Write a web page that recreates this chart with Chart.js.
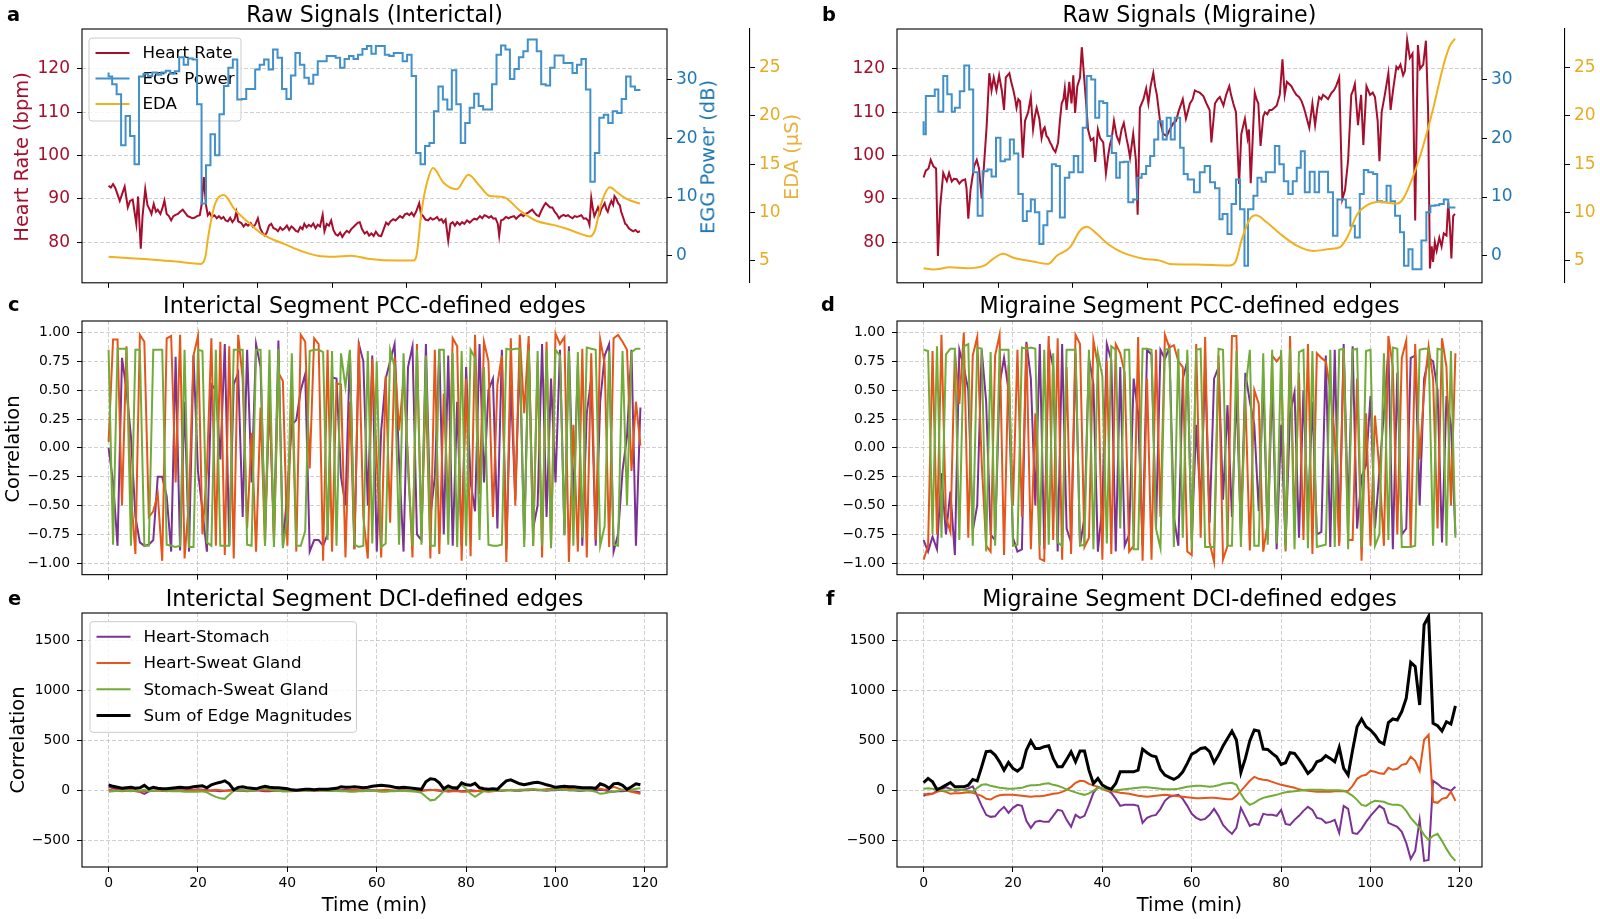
<!DOCTYPE html>
<html lang="en">
<head>
<meta charset="UTF-8">
<title>Raw signals and edges</title>
<script src="https://cdn.jsdelivr.net/npm/chart.js@4.4.0/dist/chart.umd.min.js"></script>
<style>
  body,html{margin:0;padding:0;background:#fff;}
  #fig{position:relative;width:1600px;height:919px;overflow:hidden;font-family:"DejaVu Sans",sans-serif;color:#000;}
  canvas{position:absolute;}
  .txt{position:absolute;white-space:nowrap;line-height:1;}
  .title{font-size:22.2px;transform:translateX(-50%);}
  .letter{font-size:19.4px;font-weight:bold;}
  .ylab{font-size:19.4px;transform:translate(-50%,-50%) rotate(-90deg);}
  .xlab{font-size:19.4px;transform:translateX(-50%);}
</style>
<script>
// ---- tick values ----
var rawTickSec = [0,1000,2000,3000,4000,5000,6000,7000];
var minuteTicks = [0,20,40,60,80,100,120];
var hrTicks = [80,90,100,110,120];
var eggTicks = [0,10,20,30];
var edaTicks = [5,10,15,20,25];
var pccTicks = [-1,-0.75,-0.5,-0.25,0,0.25,0.5,0.75,1];
var dciTicks = [-500,0,500,1000,1500];

// ---- raw signals, interictal: [minute, value] ----
var hrInterictal = [[0,93],[0.5,92.6],[1,93.4],[1.5,92.5],[2,91],[2.5,89.5],[3,91],[3.6,92.8],[4.3,88],[4.8,89.5],[5.4,89.8],[5.8,87],[6.2,84.2],[6.6,90.5],[7.2,78.5],[7.6,86],[8.2,92.2],[8.7,88.5],[9.2,87.5],[9.6,86.5],
 [10.1,88.8],[10.6,87],[11,87.5],[11.6,86.5],[12.1,88],[12.5,89.6],[13,86.5],[13.5,86],[14,85],[14.5,86],[15,86.3],[15.5,86.5],[16,87],[16.6,87.5],[17.1,86.8],[17.7,86],[18.2,85.8],[18.7,85.5],[19.2,85.6],[19.8,86],
 [20.4,86.2],[20.8,88.5],[21.3,95],[21.8,88.5],[22.2,86.2],[22.6,86.8],[23.1,85.8],[23.7,86.2],[24.2,85.5],[24.7,86],[25.2,85.4],[25.7,85.8],[26.2,85],[26.7,84.8],[27.2,85.6],[27.7,84.6],[28.2,85.3],[28.6,87],[29,84.8],[29.7,84.4],
 [30.2,83.6],[30.7,84.2],[31.2,83.8],[31.8,84.4],[32.3,83.5],[32.8,84],[33.4,85.5],[33.9,83.2],[34.4,82.2],[34.9,81.5],[35.4,82.2],[35.9,83.8],[36.4,84.2],[36.9,83.2],[37.4,83],[37.9,82.5],[38.4,83.4],[38.9,82.8],[39.4,83.2],[39.9,83.8],
 [40.4,82.8],[40.9,83.6],[41.4,83.2],[41.9,82.6],[42.4,82.4],[42.9,83.5],[43.4,83],[43.8,84.2],[44.3,83.4],[44.8,84],[45.3,83.6],[45.8,84.3],[46.3,83.2],[46.8,84],[47.3,83.6],[47.9,86.3],[48.3,82.5],[48.8,84.2],[49.3,83.8],[49.8,85],
 [50.3,82.8],[50.8,81.8],[51.3,81.5],[51.8,82.2],[52.3,81.2],[52.8,82],[53.3,82.6],[53.8,82.2],[54.3,83],[54.8,83.5],[55.3,84],[55.8,84.5],[56.2,84.6],[56.7,83],[57.3,82],[57.8,82.4],[58.3,81.5],[58.8,82],[59.3,81.4],[59.8,82.4],
 [60.4,81.5],[61,81.4],[61.5,82.8],[62.1,84.5],[62.6,84],[63.1,84.8],[63.7,85.3],[64.2,85],[64.7,85.5],[65.2,86],[65.8,85.6],[66.3,86.4],[66.8,86.6],[67.3,86.2],[67.8,86.8],[68.3,86],[68.8,87],[69.5,89],[69.9,86.5],[70.4,86],
 [70.9,85.2],[71.5,85],[72,85.6],[72.5,85.2],[73,85.4],[73.5,85.8],[74,85],[74.5,85.3],[74.9,84.5],[75.4,85.2],[76,80.3],[76.5,84.2],[77,84.6],[77.5,83.8],[78,84.6],[78.6,84],[79.1,84.6],[79.6,84.2],[80.2,85],[80.8,84.5],
 [81.3,85],[81.8,85.4],[82.4,85.2],[83.1,86],[83.6,85.5],[84.1,86.2],[84.6,86],[85.1,85.6],[85.6,86],[86.1,85.4],[86.6,85.5],[87.1,84.2],[87.4,81.5],[87.8,85],[88.3,85.2],[88.9,85.8],[89.5,85.5],[90.1,85.8],[90.7,86],[91.2,85.4],
 [91.8,86],[92.3,86.4],[92.8,86],[93.3,86.5],[93.9,86.8],[94.4,87.2],[94.8,87.5],[95.3,86.8],[95.8,86.2],[96.3,86],[96.9,87.4],[97.4,88.4],[97.8,89],[98.3,88.5],[98.8,88],[99.3,88],[99.8,87],[100.3,86.4],[100.8,85.5],[101.3,86],
 [101.8,86.3],[102.3,86],[102.8,86.2],[103.3,85.8],[103.8,85.5],[104.3,86],[104.8,85.8],[105.3,86],[105.8,86.2],[106.3,85.4],[106.8,85.5],[107.3,85],[107.6,84],[108,90.2],[108.4,87.5],[108.7,86],[109.1,87],[109.5,88],[109.9,86.5],[110.2,87.5],
 [110.6,88.2],[111,89],[111.4,87.5],[111.7,87],[112.1,88.5],[112.5,89.5],[112.9,88.6],[113.2,90.6],[113.6,90],[114,89],[114.4,88.5],[114.7,87],[115.2,85.5],[115.6,84.2],[115.9,84],[116.4,83.2],[116.9,82.8],[117.4,82.5],[117.9,82.8],[118.4,82.3],[118.9,82.5]];

// EGG power per minute (dB)
var eggInterictal = [
 31.2,30.5,29.2,27.5,18.8,23.8,20.4,15.6,30.5,31,
 30.6,31.2,30.8,31.2,31.5,31,31.4,33.8,32.5,33.6,
 33.4,25.8,8.9,15.4,20.7,17.1,24.1,28.9,32,33.4,
 26.6,26.7,28.4,28.4,31.7,32.5,33.4,31.7,35.1,33.7,
 28.4,26.7,30.7,34.5,32.5,30.3,29.3,30.8,33.1,33.1,
 34,34,33.7,32,33.5,34,33.5,34.2,35.2,35.7,
 34.4,35.7,35.7,34.2,34,34.5,34.5,33.1,34.2,30.6,
 17.5,15.6,18.7,19.2,24.6,28.8,26.6,24.9,31.6,25.8,
 19.2,22.6,25.2,27.6,25.5,24.9,24.9,29.2,34.2,35.8,
 35.1,30.1,31.8,33.8,34.8,36.8,36.8,34.8,29.2,29,
 32,34.1,34.1,32.8,32.8,31.1,32.5,33.5,28.3,12.6,
 17.5,23.5,24,22.6,24.6,24.3,26.7,30.5,28.8,28.2];

var edaInterictal = [[0,5.41],[5,5.25],[10,5.1],[15,4.9],[20.7,4.66],[21.7,5.5],[22.2,7.2],[23.7,10.7],[25.8,11.8],[28.2,10.3],[31.2,9],[34.2,7.8],[39.4,6.7],[43.1,6.0],[46.8,5.5],[50.6,5.4],[54.3,5.5],[58,5.2],[64.7,5.0],[68.2,5.0],
 [68.9,5.5],[70,10],[71.1,12.8],[72.6,14.6],[74.9,13.1],[77.9,12.4],[80.5,13.9],[83.1,12.7],[85.3,11.7],[88.3,11.6],[92,10.2],[95.8,9.1],[99.5,8.7],[102.5,8.3],[105.5,7.8],[107.7,7.5],[108.8,8.1],[110.3,11],[112.2,12.6],[113.7,12.1],[115.9,11.4],[118.9,10.9]];

// ---- raw signals, migraine ----
var hrMigraine = [[0,94.9],[0.5,96.5],[1.1,97],[1.6,99],[2.2,97.5],[2.8,97],[3.2,76.8],[3.7,88],[4.4,96],[4.8,95],[5.2,94.1],[5.7,96],[6.3,94],[6.8,94.6],[7.4,94.5],[8,93.5],[8.6,94.2],[9.3,94.5],[9.6,92.5],[10,85.4],
 [10.5,92],[11.3,97.5],[11.9,99],[12.4,97],[13,90],[13.6,99],[14.1,106.6],[14.7,119],[15.2,115],[15.7,118],[16.3,115],[16.9,118.5],[17.5,115],[18,110.5],[18.4,118],[19.2,119],[19.6,117],[20.1,115],[20.5,113],[20.8,111],
 [21.2,113],[21.6,112.5],[22.2,99.5],[22.7,108],[23.4,110],[24,113.5],[24.5,106],[24.9,109],[25.3,111],[25.9,108.5],[26.4,104],[26.8,106],[27.1,106.5],[27.5,104.5],[27.9,104],[28.3,103],[28.6,102.5],[29,101.5],[29.5,100.8],[30.1,103],
 [30.5,108],[30.9,112],[31.3,113],[31.6,115.5],[32,110.5],[32.6,117],[33.1,112],[33.5,118.5],[33.9,109.8],[34.4,116],[35,118],[35.4,125],[35.7,121],[36.3,113],[36.8,106],[37.4,103.5],[38,104],[38.4,98.5],[39,106],[39.5,104],
 [40.2,103],[40.8,95.9],[41.3,100],[41.7,102.5],[42.1,104],[42.6,108],[43.2,104.5],[43.8,103],[44.3,106],[44.8,107.5],[45.4,104],[45.8,102],[46.2,99.5],[46.9,105],[47.5,99],[47.9,86.3],[48.4,111],[48.8,112],[49.2,113],[49.8,115.5],
 [50.3,112],[50.8,116],[51.4,119],[51.8,116],[52.2,114],[52.9,108],[53.6,105],[54.4,104.5],[55.1,106],[55.9,107.5],[56.5,108],[57,110],[57.5,111.5],[58,113],[58.7,108.5],[59.6,112],[60.2,113],[60.7,115],[61.1,114.8],[61.8,114.5],
 [62.6,113.7],[63.3,112],[64,110.5],[64.4,103],[65.2,112],[65.8,113],[66.3,113.5],[67.1,111.5],[67.7,114],[68.4,116],[68.8,114],[69.3,112],[69.9,110],[70.6,93.4],[71.1,105],[71.9,108.5],[72.5,104],[72.8,106],[73.2,93.6],[74.1,114.5],
 [74.5,113],[74.9,112],[75.4,102.2],[76,109],[76.4,110],[76.9,109.5],[77.4,110.5],[77.9,110.5],[78.5,111],[79,111.5],[79.7,114],[80.3,122.2],[80.8,114],[81.3,117],[81.8,116.5],[82.3,116],[82.8,115],[83.4,114],[84,113.5],[84.6,112.5],
 [85.1,111],[85.5,109.5],[86.3,106.4],[87,112],[87.6,107],[88.1,111],[88.5,113.5],[89,113],[89.4,114],[90,113.5],[90.5,113],[91.3,114.5],[91.8,115],[92.3,116],[93,118],[93.7,89.9],[94.3,92],[95,99],[95.7,114],[96.1,115],
 [96.5,116.5],[97.2,107],[97.9,114],[98.4,102.4],[99.1,116],[99.5,115],[99.9,114],[100.5,114.5],[101,113.5],[101.6,108],[102,98.7],[102.5,110],[103.2,114],[104,119],[104.5,110.5],[105.1,115.5],[105.8,120.5],[106.2,120],[106.7,121],[107.3,118.5],
 [107.7,119.5],[108.2,126.7],[108.8,122.5],[109.4,123.5],[110,85],[110.6,125.5],[111.1,120],[111.8,121],[112.4,126.5],[112.9,110],[113.3,73.9],[113.7,79],[114,75.4],[114.4,80],[114.8,78],[115.4,81],[115.9,79],[116.4,82],[117,81.5],[117.4,89.2],
 [117.8,83],[118.1,76.2],[118.5,86],[118.9,86.5]];

// EGG power steps: [step start minute, dB]
var eggMigraine = [[0,22.9],[0.5,20.7],[2.5,27.2],[3.3,28.3],[4.4,24.5],[5.3,30.6],[6.3,27.5],[7,24.5],[8.1,25.2],[9.1,28],[10.2,32.4],[11.1,28.3],[12.1,14.2],[13.2,6.8],[14.3,14.4],[15.2,14.7],[16.2,13.5],[17.2,20.1],[18.2,16.1],[19.3,16.4],
 [20.2,19.8],[21.2,17.4],[22.2,10.5],[23.1,5.9],[24,7.6],[24.9,9.6],[25.9,7.4],[26.8,2],[27.7,5.2],[28.7,7.6],[29.6,15.6],[30.5,15.3],[31.6,6.5],[32.6,13.3],[33.6,14.2],[34.6,17],[35.6,14.2],[36.5,21.8],[37.5,30.6],[38.4,30],
 [39.3,23.5],[40.2,26.3],[41.1,26],[42.1,20.4],[43.1,17.5],[43.9,13.3],[44.8,15.9],[45.8,16],[46.9,9.1],[47.8,9.6],[48.8,13.3],[49.8,13.9],[50.7,15.3],[51.6,17],[52.5,19.8],[53.5,22.9],[54.4,19.8],[55.3,23.5],[56.2,19.8],[57.4,23.5],
 [58.2,18.4],[59.1,13.9],[60.5,13],[61.8,10.8],[62.9,14.2],[64.1,15.3],[65.2,12.5],[66.2,11.5],[66.9,6.2],[68,7.1],[68.9,3.7],[69.9,8.8],[70.8,13],[71.8,7.9],[72.6,-1.7],[73.8,7.9],[74.7,10.2],[75.6,13.3],[76.6,12.6],[78.6,14.2],
 [79.6,18.7],[80.6,15.6],[81.6,12.7],[82.6,10.5],[83.5,12.7],[84.4,15],[85.3,17.8],[86.4,10.8],[87.5,14.3],[88.5,10.8],[90.5,14.3],[91.6,10.8],[92.6,3.4],[94.5,9.6],[95.5,8.2],[96.5,5.1],[97.6,3.1],[98.5,10.5],[99.5,14.6],[100.6,14.2],
 [101.5,13.9],[102.6,9.3],[103.6,9.1],[104.5,11.9],[105.5,9.3],[106.6,6.8],[107.5,4],[108.5,-1.7],[109.4,1.1],[111.4,-2.3],[112.5,2.6],[113.4,7.4],[114.4,8.5],[115.4,8.6],[116.4,8.8],[117.4,9.6],[118.4,8.2],[119,8.2]];

var edaMigraine = [[0,4.2],[2.2,4.07],[5.9,4.3],[9.6,4.2],[13.7,4.5],[15.6,5.2],[17.8,5.7],[20.1,5.3],[24.5,4.9],[27.9,4.66],[29.8,5.5],[32.8,6.4],[35,8.1],[36.5,8.5],[38.7,7.8],[41.3,6.7],[44.7,5.8],[49.2,5.2],[52.9,5.0],[55.1,4.66],
 [61.1,4.6],[68.5,4.5],[69.7,4.8],[71.2,7.2],[73,9.3],[74.4,9.7],[76.7,9.0],[79.7,7.8],[83.5,6.55],[87.2,6.0],[90.9,6.2],[93.2,6.4],[95,7.6],[96.9,9.7],[99.1,10.7],[102.1,11.1],[105.8,10.9],[107.3,11.4],[109.6,13.8],[111.8,16.9],
 [114,20.7],[116.3,25.2],[117.7,27.2],[118.9,28.0]];

// ---- PCC-defined edges, one value per minute ----
var pccInterHS = [
 0.0,-0.3,-0.85,0.78,0.5,0.1,-0.6,-0.82,-0.85,-0.84,
 -0.8,-0.25,-0.25,-0.42,-0.9,0.79,-0.89,0.4,-0.9,0.8,
 -0.2,-0.55,-0.9,0.55,0.5,-0.1,0.9,-0.85,0.55,0.65,
 -0.6,0.85,-0.3,0.9,0.7,-0.7,0.42,-0.75,0.93,-0.85,
 -0.38,0.2,0.24,0.5,0.64,-0.9,-0.8,-0.8,-0.85,-0.75,
 0.61,0.6,-0.25,-0.5,0.84,-0.88,0.9,0.75,-0.5,0.8,
 -0.9,0.15,0.6,0.75,0.9,-0.12,-0.9,0.7,0.88,-0.75,
 -0.8,0.9,-0.6,-0.25,0.85,-0.75,0.8,-0.85,0.4,-0.85,
 0.7,-0.3,-0.55,0.9,-0.3,0.5,0.6,-0.7,0.85,-0.88,
 0.55,-0.45,0.8,-0.8,0.9,-0.7,-0.5,0.9,-0.6,0.6,
 -0.3,0.85,-0.75,0.88,-0.5,0.72,-0.85,0.3,0.6,-0.85,
 0.4,0.8,0.9,-0.9,-0.75,-0.2,0.1,0.85,-0.85,0.35];
var pccInterHSG = [
 0.05,0.94,0.94,-0.5,0.88,-0.4,-0.92,0.98,0.92,-0.6,
 -0.55,-0.4,-0.98,0.95,0.97,-0.3,0.98,-0.96,-0.45,0.8,
 0.97,-0.75,-0.2,0.95,-0.85,0.92,-0.93,0.88,-0.96,0.98,
 0.6,-0.7,0.13,-0.9,0.35,-0.85,0.5,-0.82,0.65,0.58,
 -0.85,0.55,-0.9,0.98,0.92,-0.18,0.95,0.9,-0.98,0.85,
 -0.9,0.56,0.55,-0.95,0.4,-0.88,0.92,-0.6,-0.96,0.77,
 -0.1,-0.95,0.62,-0.65,0.78,0.15,0.6,-0.1,-0.95,0.9,
 -0.75,0.52,-0.96,0.85,-0.92,0.47,-0.55,0.95,0.88,-0.98,
 0.6,-0.94,0.98,-0.4,0.92,0.75,-0.6,0.55,0.8,-0.99,
 0.95,-0.5,0.98,0.3,0.97,-0.85,0.75,-0.95,0.92,-0.85,
 0.99,0.9,0.96,-0.99,0.2,-0.9,0.86,-0.95,0.82,-0.8,
 0.94,0.73,-0.86,0.95,0.98,0.92,0.85,-0.2,0.4,0.02];
var pccInterSSG = [
 0.85,-0.84,0.86,0.86,0.86,-0.85,0.85,0.85,-0.85,-0.85,
 0.85,0.85,0.85,-0.84,-0.85,-0.86,-0.85,0.85,-0.86,-0.86,
 0.85,0.84,-0.82,-0.85,0.85,-0.85,-0.85,-0.85,0.85,0.85,
 0.85,-0.84,-0.85,0.85,0.85,-0.85,0.85,-0.86,0.86,-0.87,
 -0.6,0.82,-0.85,-0.85,-0.72,0.84,0.85,0.85,0.83,-0.8,
 0.84,-0.85,0.82,0.53,0.85,-0.84,-0.86,-0.85,0.84,-0.83,
 0.75,-0.86,-0.83,0.85,0.7,-0.84,0.82,-0.2,-0.85,0.85,
 -0.84,0.8,-0.85,-0.85,0.85,0.85,-0.84,0.82,-0.86,0.84,
 -0.85,0.85,0.78,-0.8,0.7,-0.84,-0.85,-0.85,-0.84,0.86,
 0.85,0.86,0.86,-0.86,0.85,-0.85,0.84,-0.85,0.85,-0.87,
 0.85,0.8,-0.76,0.84,-0.85,0.83,-0.78,0.87,0.86,0.85,
 -0.85,-0.68,0.84,-0.84,-0.85,0.84,-0.5,0.83,0.86,0.86];

var pccMigHS = [
 -0.8,-0.9,-0.77,-0.88,-0.22,-0.75,-0.38,-0.93,0.85,0.7,
 0.5,-0.72,-0.5,0.85,0.4,-0.75,-0.8,0.55,0.78,0.5,
 -0.78,-0.9,-0.88,0.92,0.6,-0.5,0.9,-0.88,0.88,0.7,
 -0.9,0.9,-0.7,-0.82,0.82,-0.85,-0.6,0.78,0.55,-0.9,
 -0.5,0.9,0.76,-0.9,0.7,-0.85,-0.75,0.6,0.3,-0.85,
 0.85,0.81,-0.7,0.85,0.77,0.87,-0.6,-0.85,0.6,0.75,
 -0.8,0.2,-0.5,0.7,-0.65,0.6,0.7,-0.45,0.37,-0.6,
 0.5,-0.75,0.65,0.4,0.2,-0.55,0.6,-0.8,0.6,-0.88,
 0.2,-0.85,0.3,0.48,-0.78,0.5,-0.6,0.4,-0.75,-0.73,
 0.8,-0.86,0.85,-0.82,0.9,-0.6,0.88,-0.7,-0.25,-0.15,
 0.45,-0.7,-0.2,0.3,0.85,-0.88,0.65,-0.75,-0.7,0.78,
 0.8,-0.5,0.6,0.78,0.75,0.5,-0.82,0.45,0.2,-0.75];
var pccMigHSG = [
 -0.97,-0.85,0.84,-0.75,0.98,-0.6,-0.73,0.84,0.38,1.0,
 -0.78,0.8,0.96,-0.13,-0.85,-0.9,0.8,0.98,-0.93,0.72,
 -0.5,0.85,-0.6,0.9,-0.88,0.3,-0.96,-0.98,0.97,-0.8,
 0.95,-0.97,0.7,-0.92,0.98,0.9,-0.86,-0.78,0.93,0.72,
 -0.97,0.75,-0.92,0.9,0.82,0.65,-0.9,-0.85,0.96,-0.98,
 0.6,-0.97,0.85,-0.6,0.98,0.87,0.89,0.75,0.7,-0.9,
 -0.93,0.9,-0.78,0.96,-0.82,-0.99,0.8,-0.97,-0.85,0.97,
 0.97,-0.7,0.45,-0.89,0.5,0.38,-0.9,-0.65,0.8,0.75,
 0.8,-0.9,0.97,-0.7,0.65,-0.8,0.9,-0.92,0.82,0.78,
 0.75,0.5,0.1,-0.85,0.85,-0.8,-0.8,0.6,-0.98,0.3,
 -0.85,0.28,-0.2,-0.85,0.97,0.7,-0.75,0.78,0.93,-0.86,
 0.9,-0.1,0.5,0.88,0.6,-0.7,0.95,0.7,-0.5,0.82];
var pccMigSSG = [
 0.85,0.84,-0.75,0.88,-0.78,0.81,0.86,0.86,-0.8,0.88,
 0.9,-0.85,0.87,0.86,-0.9,0.83,-0.85,0.85,0.85,0.85,
 -0.85,-0.84,0.87,0.86,0.87,0.86,-0.85,0.85,-0.84,0.82,
 -0.82,-0.85,0.85,0.85,0.85,-0.85,-0.84,0.85,-0.88,0.82,
 0.62,-0.83,0.88,0.85,-0.7,0.85,0.85,-0.88,-0.88,0.86,
 0.86,0.85,-0.7,-0.87,0.85,0.86,-0.86,0.86,-0.78,0.85,
 -0.88,0.85,0.86,-0.86,-0.86,-0.86,0.86,0.85,-0.85,-0.85,
 0.84,-0.86,0.5,0.85,-0.85,-0.85,0.82,-0.84,0.85,-0.83,
 0.85,-0.88,0.86,-0.88,0.83,0.85,-0.87,0.84,-0.86,-0.85,
 -0.84,0.85,-0.86,0.85,0.86,-0.88,0.85,0.86,-0.86,0.84,
 0.85,-0.85,-0.75,0.82,-0.8,0.87,0.86,-0.86,-0.86,-0.86,
 -0.85,0.85,0.86,0.86,-0.85,0.86,0.85,-0.85,0.84,-0.78];

// ---- DCI-defined edges, one value per minute ----
var dciInterHS = [
 40,25,15,10,5,5,0,-10,-30,-5,
 0,5,0,0,5,5,5,5,10,10,
 15,10,5,0,0,-5,0,5,5,0,
 0,-5,0,5,0,-5,-5,0,0,5,
 0,0,5,5,5,0,0,5,5,0,
 0,5,5,10,5,5,0,0,5,5,
 0,0,5,0,0,5,5,0,0,0,
 0,5,10,5,0,-5,0,5,0,-5,
 0,5,0,-5,0,5,5,0,0,5,
 5,0,0,5,5,10,5,5,0,5,
 5,10,10,5,5,0,0,5,5,0,
 10,5,-5,-10,-5,-5,0,-5,-10,-15];
var dciInterHSG = [
 10,5,0,-5,0,5,-5,-10,-5,0,
 0,5,0,-5,0,5,0,0,5,5,
 10,5,0,5,10,5,0,0,5,10,
 5,0,0,5,10,5,5,0,0,-5,
 -5,-5,0,0,5,5,0,0,5,5,
 5,5,0,0,5,10,5,5,0,0,
 5,5,10,5,0,0,5,0,-5,-5,
 0,5,5,10,5,0,-10,-5,-5,-10,
 -10,-5,-5,0,-5,-10,-5,0,0,5,
 5,5,10,10,15,15,10,10,15,20,
 20,15,20,20,15,15,10,15,20,25,
 20,10,20,40,25,10,0,-10,-20,-30];
var dciInterSSG = [
 -10,-5,0,5,0,-5,5,0,10,-5,
 0,5,5,0,-5,-5,-5,-10,-10,-10,
 -10,-5,-15,-40,-60,-75,-80,-40,0,5,
 5,0,0,10,20,25,15,5,0,-5,
 -5,0,5,5,0,0,5,5,0,0,
 0,0,-5,-5,-10,-10,-5,-5,0,0,
 -5,-10,-10,-5,-5,0,0,-5,-5,-10,
 -20,-60,-95,-90,-50,0,20,30,40,60,
 20,-30,-60,-30,0,5,0,0,5,5,
 10,5,5,10,10,15,10,5,5,10,
 10,15,10,5,5,10,5,5,0,-10,
 -30,-25,-15,-10,0,10,5,10,20,25];
var dciInterSum = [
 60,45,35,25,30,35,25,30,55,20,
 35,25,20,20,25,30,35,30,30,40,
 45,50,30,60,75,85,100,70,10,35,
 40,30,25,20,35,45,35,30,30,25,
 20,10,5,10,15,15,10,15,15,15,
 20,25,40,35,35,40,35,30,35,45,
 50,55,50,45,35,30,35,30,25,20,
 15,90,120,115,80,20,50,30,25,80,
 60,55,75,30,20,15,20,15,60,100,
 110,90,70,60,70,80,85,75,60,50,
 35,40,45,40,40,35,30,30,30,25,
 70,55,25,70,75,55,15,40,70,60];

var dciMigHS = [
 -50,-30,-30,0,20,35,20,0,5,10,
 25,45,-50,-150,-240,-260,-255,-200,-160,-220,
 -170,-140,-150,-300,-370,-310,-300,-310,-310,-250,
 -190,-200,-290,-360,-240,-270,-250,-140,-20,40,
 20,10,-20,-80,-150,-140,-140,-140,-150,-320,
 -270,-250,-240,-180,-100,-60,-50,-40,-80,-150,
 -230,-270,-290,-280,-240,-180,-250,-340,-390,-430,
 -370,-170,-260,-350,-330,-340,-230,-240,-240,-250,
 -190,-330,-340,-290,-250,-200,-160,-190,-270,-280,
 -320,-310,-290,-420,-150,-180,-420,-430,-380,-310,
 -250,-200,-150,-180,-320,-340,-360,-410,-520,-680,
 -600,-290,-700,-690,100,70,30,20,0,40];
var dciMigHSG = [
 -30,-40,-30,-10,0,-10,-30,-25,-25,-20,
 -15,-20,-35,-50,-80,-87,-60,-45,-40,-40,
 -40,-45,-50,-55,-60,-55,-55,-50,-40,-30,
 -25,-10,10,40,80,100,95,70,55,40,
 20,0,-5,-10,-20,-25,-30,-40,-50,-55,
 -60,-55,-50,-45,-40,-45,-50,-55,-60,-65,
 -70,-75,-75,-72,-70,-70,-75,-80,-85,-85,
 -50,0,50,100,140,120,110,105,90,75,
 60,50,40,30,15,5,0,-5,-10,-10,
 -10,-10,-5,-5,-5,0,50,120,150,160,
 200,190,175,170,230,210,220,260,270,340,
 300,200,510,560,-110,-120,-80,-70,-10,-100];
var dciMigSSG = [
 20,25,20,10,5,0,5,10,10,5,
 0,-10,30,60,65,50,40,30,25,20,
 20,25,30,45,55,55,60,70,75,60,
 50,35,15,0,-15,-30,-40,-25,0,30,
 20,10,5,5,10,15,20,25,30,35,
 35,30,25,20,15,15,15,20,30,40,
 45,50,50,45,40,45,55,70,75,80,
 60,-30,-100,-140,-120,-90,-70,-60,-50,-40,
 -25,-15,-10,-5,0,5,10,10,10,10,
 5,5,5,5,0,-20,-50,-90,-140,-150,
 -120,-100,-105,-110,-130,-140,-140,-150,-200,-270,
 -320,-370,-440,-490,-450,-430,-500,-580,-650,-700];
var dciMigSum = [
 83,124,90,13,33,57,83,40,40,40,
 57,114,100,240,391,397,357,290,207,284,
 224,197,234,407,498,424,424,441,451,324,
 240,240,314,391,290,397,397,207,73,124,
 57,33,17,73,190,190,190,190,207,417,
 381,351,341,214,157,134,114,140,190,274,
 367,391,424,431,391,281,357,448,524,598,
 508,184,324,501,608,598,417,414,374,341,
 264,281,381,374,314,247,174,214,290,307,
 351,324,290,434,224,157,407,641,718,641,
 608,558,491,468,681,718,708,792,925,1283,
 1242,858,1660,1743,675,651,598,691,668,848];
</script>
</head>
<body>
<div id="fig">
  <canvas id="cA" width="820" height="300" style="left:0;top:0"></canvas>
  <canvas id="cB" width="785" height="300" style="left:815px;top:0"></canvas>
  <canvas id="cC" width="680" height="290" style="left:0;top:300px"></canvas>
  <canvas id="cD" width="680" height="290" style="left:815px;top:300px"></canvas>
  <canvas id="cE" width="680" height="329" style="left:0;top:590px"></canvas>
  <canvas id="cF" width="680" height="329" style="left:815px;top:590px"></canvas>

  <div class="txt letter" style="left:7px;top:4.6px">a</div>
  <div class="txt letter" style="left:822px;top:4.6px">b</div>
  <div class="txt letter" style="left:8px;top:295.3px">c</div>
  <div class="txt letter" style="left:821px;top:295.3px">d</div>
  <div class="txt letter" style="left:8px;top:588.6px">e</div>
  <div class="txt letter" style="left:826px;top:588.6px">f</div>

  <div class="txt title" style="left:374.5px;top:2.9px">Raw Signals (Interictal)</div>
  <div class="txt title" style="left:1189.5px;top:2.9px">Raw Signals (Migraine)</div>
  <div class="txt title" style="left:374.5px;top:294.2px">Interictal Segment PCC-defined edges</div>
  <div class="txt title" style="left:1189.5px;top:294.2px">Migraine Segment PCC-defined edges</div>
  <div class="txt title" style="left:374.5px;top:587.2px">Interictal Segment DCI-defined edges</div>
  <div class="txt title" style="left:1189.5px;top:587.2px">Migraine Segment DCI-defined edges</div>

  <div class="txt ylab" style="left:21.6px;top:156.5px;color:#a50f2d">Heart Rate (bpm)</div>
  <div class="txt ylab" style="left:708.3px;top:156.5px;color:#1f77b4">EGG Power (dB)</div>
  <div class="txt ylab" style="left:792px;top:156.5px;color:#e8b13a">EDA (μS)</div>
  <div class="txt ylab" style="left:12.5px;top:448.5px">Correlation</div>
  <div class="txt ylab" style="left:18px;top:740px">Correlation</div>
  <div class="txt xlab" style="left:374.5px;top:894.6px">Time (min)</div>
  <div class="txt xlab" style="left:1189.5px;top:894.6px">Time (min)</div>
</div>

<script>
var FONT = '"DejaVu Sans", sans-serif';
Chart.defaults.font.family = FONT;
Chart.defaults.color = '#000';

var HR_C = '#a50f2d', EGG_LINE = '#4190c9', EGG_TXT = '#1f77b4', EDA_LINE = '#f0b020', EDA_TXT = '#e6ac22';
var PURPLE = '#7b3294', ORANGE = '#e4561a', GREEN = '#71ac38';
var GRID = 'rgba(176,176,176,0.75)';

function pairs(arr) { return arr.map(function (p) { return {x: p[0], y: p[1]}; }); }
function perMinute(arr) { return arr.map(function (v, i) { return {x: i, y: v}; }); }
function setTicks(list) { return function (s) { s.ticks = list.map(function (v) { return {value: v}; }); }; }
function minus(v) { return (v < 0 ? '\u2212' : '') + Math.abs(v); }

var framePlugin = {
  id: 'frame',
  afterDatasetsDraw: function (chart) {
    var a = chart.chartArea, c = chart.ctx;
    c.save();
    c.strokeStyle = '#000';
    c.lineWidth = 1.1;
    c.strokeRect(a.left, a.top, a.right - a.left, a.bottom - a.top);
    c.restore();
  }
};

function legendPlugin(box, rows, beforeIndex) {
  function draw(ctx) {
    ctx.save();
    ctx.beginPath();
    if (ctx.roundRect) ctx.roundRect(box.x, box.y, box.w, box.h, 3); else ctx.rect(box.x, box.y, box.w, box.h);
    ctx.fillStyle = 'rgba(255,255,255,0.8)';
    ctx.fill();
    ctx.lineWidth = 1;
    ctx.strokeStyle = '#cccccc';
    ctx.stroke();
    ctx.font = '16.7px ' + FONT;
    ctx.textBaseline = 'middle';
    rows.forEach(function (r, i) {
      var y = box.y + box.first + i * box.gap;
      ctx.beginPath();
      ctx.moveTo(box.x + 6.5, y);
      ctx.lineTo(box.x + 40.5, y);
      ctx.strokeStyle = r.color;
      ctx.lineWidth = r.width;
      ctx.stroke();
      ctx.fillStyle = '#000';
      ctx.fillText(r.label, box.x + 53.5, y + 1);
    });
    ctx.restore();
  }
  return {
    id: 'boxLegend',
    beforeDatasetDraw: function (chart, args) { if (beforeIndex !== null && args.index === beforeIndex) draw(chart.ctx); },
    afterDatasetsDraw: function (chart) { if (beforeIndex === null) draw(chart.ctx); }
  };
}

function xAxis(tickList, height, showLabels, grid) {
  return {
    type: 'linear', min: -5.95, max: 124.95,
    afterBuildTicks: setTicks(tickList),
    afterFit: function (s) { s.height = height; },
    ticks: {display: showLabels, autoSkip: false, maxRotation: 0, padding: 3, font: {size: 13.9}, color: '#000'},
    grid: {display: true, drawOnChartArea: grid, color: GRID, lineWidth: 0.8, drawTicks: true, tickLength: 5, tickColor: '#000', tickWidth: 1},
    border: {display: false, dash: [4, 2]}
  };
}

function rawChart(id, hr, egg, eda, rightWidth, withLegend) {
  var plugins = [framePlugin];
  if (withLegend) {
    plugins.push(legendPlugin({x: 89, y: 38, w: 152, h: 83, first: 15, gap: 25.5}, [
      {label: 'Heart Rate', color: HR_C, width: 2},
      {label: 'EGG Power', color: EGG_LINE, width: 2},
      {label: 'EDA', color: EDA_LINE, width: 2}
    ], 1));
  }
  return new Chart(document.getElementById(id), {
    type: 'line',
    data: {datasets: [
      {data: hr, borderColor: HR_C, borderWidth: 2, yAxisID: 'yHR', order: 2},
      {data: egg, borderColor: EGG_LINE, borderWidth: 2, stepped: 'after', yAxisID: 'yEGG', order: 1},
      {data: eda, borderColor: EDA_LINE, borderWidth: 2, cubicInterpolationMode: 'monotone', yAxisID: 'yEDA', order: 0}
    ]},
    options: {
      responsive: false, animation: false, events: [],
      layout: {autoPadding: false, padding: {top: 29, left: 0, right: 0, bottom: 0}},
      elements: {point: {radius: 0}, line: {tension: 0}},
      plugins: {legend: {display: false}, tooltip: {enabled: false}},
      scales: {
        x: xAxis(rawTickSec.map(function (s) { return s / 60; }), 16, false, false),
        yHR: {
          position: 'left', min: 70.6, max: 129.2,
          afterBuildTicks: setTicks(hrTicks),
          afterFit: function (s) { s.width = 82; },
          ticks: {color: HR_C, font: {size: 17}, padding: 7},
          grid: {color: GRID, lineWidth: 0.8, tickLength: 5, tickColor: '#000', tickWidth: 1},
          border: {display: false, dash: [4, 2]}
        },
        yEGG: {
          position: 'right', weight: 0, min: -4.6, max: 38.6,
          afterBuildTicks: setTicks(eggTicks),
          afterFit: function (s) { s.width = 83; },
          ticks: {color: EGG_TXT, font: {size: 17}, padding: 4},
          grid: {drawOnChartArea: false, tickLength: 5, tickColor: '#000', tickWidth: 1},
          border: {display: false}
        },
        yEDA: {
          position: 'right', weight: 1, min: 2.7, max: 29,
          afterBuildTicks: setTicks(edaTicks),
          afterFit: function (s) { s.width = rightWidth; },
          ticks: {color: EDA_TXT, font: {size: 17}, padding: 4},
          grid: {drawOnChartArea: false, tickLength: 5, tickColor: '#000', tickWidth: 1},
          border: {display: true, color: '#000', width: 1.1}
        }
      }
    },
    plugins: plugins
  });
}

function edgeChart(id, series, yMin, yMax, yTicks, fmt, xHeight, xLabels, padTop, legend) {
  var plugins = [framePlugin];
  if (legend) plugins.push(legendPlugin(legend.box, legend.rows, null));
  return new Chart(document.getElementById(id), {
    type: 'line',
    data: {datasets: series.map(function (s, i) {
      return {data: perMinute(s.values), borderColor: s.color, borderWidth: s.width, order: series.length - i};
    })},
    options: {
      responsive: false, animation: false, events: [],
      layout: {autoPadding: false, padding: {top: padTop, left: 0, right: 13, bottom: 0}},
      elements: {point: {radius: 0}, line: {tension: 0}},
      plugins: {legend: {display: false}, tooltip: {enabled: false}},
      scales: {
        x: xAxis(minuteTicks, xHeight, xLabels, true),
        y: {
          position: 'left', min: yMin, max: yMax,
          afterBuildTicks: setTicks(yTicks),
          afterFit: function (s) { s.width = 82; },
          ticks: {callback: fmt, font: {size: 13.9}, color: '#000', padding: 7},
          grid: {color: GRID, lineWidth: 0.8, tickLength: 5, tickColor: '#000', tickWidth: 1},
          border: {display: false, dash: [4, 2]}
        }
      }
    },
    plugins: plugins
  });
}

var eggInterPts = perMinute(eggInterictal).map(function (p) { return {x: Math.max(0, p.x - 0.2), y: p.y}; });
eggInterPts.push({x: 119, y: eggInterictal[eggInterictal.length - 1]});

rawChart('cA', pairs(hrInterictal), eggInterPts, pairs(edaInterictal), 70, true);
rawChart('cB', pairs(hrMigraine), pairs(eggMigraine), pairs(edaMigraine), 35, false);

function pccFmt(v) { return (v < 0 ? '\u2212' : '') + Math.abs(v).toFixed(2); }

edgeChart('cC', [
  {values: pccInterHS, color: PURPLE, width: 2},
  {values: pccInterHSG, color: ORANGE, width: 2},
  {values: pccInterSSG, color: GREEN, width: 2}
], -1.1, 1.1, pccTicks, pccFmt, 14, false, 21, null);
edgeChart('cD', [
  {values: pccMigHS, color: PURPLE, width: 2},
  {values: pccMigHSG, color: ORANGE, width: 2},
  {values: pccMigSSG, color: GREEN, width: 2}
], -1.1, 1.1, pccTicks, pccFmt, 14, false, 21, null);

var dciLegend = {
  box: {x: 90, y: 31.7, w: 266.5, h: 110.6, first: 15, gap: 26.3},
  rows: [
    {label: 'Heart-Stomach', color: PURPLE, width: 2},
    {label: 'Heart-Sweat Gland', color: ORANGE, width: 2},
    {label: 'Stomach-Sweat Gland', color: GREEN, width: 2},
    {label: 'Sum of Edge Magnitudes', color: '#000', width: 3}
  ]
};
edgeChart('cE', [
  {values: dciInterHS, color: PURPLE, width: 2},
  {values: dciInterHSG, color: ORANGE, width: 2},
  {values: dciInterSSG, color: GREEN, width: 2},
  {values: dciInterSum, color: '#000', width: 3}
], -761, 1777, dciTicks, minus, 52, true, 23, dciLegend);
edgeChart('cF', [
  {values: dciMigHS, color: PURPLE, width: 2},
  {values: dciMigHSG, color: ORANGE, width: 2},
  {values: dciMigSSG, color: GREEN, width: 2},
  {values: dciMigSum, color: '#000', width: 3}
], -761, 1777, dciTicks, minus, 52, true, 23, null);
</script>
</body>
</html>
